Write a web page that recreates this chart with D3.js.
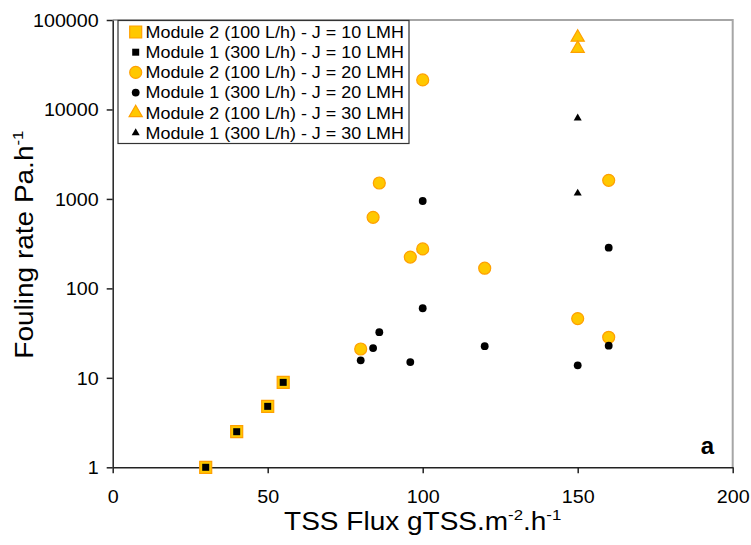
<!DOCTYPE html>
<html>
<head>
<meta charset="utf-8">
<script src="https://cdn.jsdelivr.net/npm/d3@7"></script>
<style>
  html, body { margin: 0; padding: 0; background: #fff; overflow: hidden; }
  svg { display: block; }
  text { font-family: "Liberation Sans", Arial, sans-serif; }
</style>
</head>
<body>
<div id="chart"></div>
<script>
// series, in legend / draw order
const seriesNames = [
  "Module 2 (100 L/h) - J = 10 LMH",
  "Module 1 (300 L/h) - J = 10 LMH",
  "Module 2 (100 L/h) - J = 20 LMH",
  "Module 1 (300 L/h) - J = 20 LMH",
  "Module 2 (100 L/h) - J = 30 LMH",
  "Module 1 (300 L/h) - J = 30 LMH"
];

// TSS flux (x) and fouling rate (y)
const m2j10x = [30, 40, 50, 55];
const m2j10y = [1, 2.5, 4.8, 8.9];
const m1j10x = [30, 40, 50, 55];
const m1j10y = [1, 2.5, 4.8, 8.9];
const m2j20x = [80, 84, 86, 96, 100, 100, 120, 150, 160, 160];
const m2j20y = [21, 623, 1507, 224, 276, 21400, 168, 46, 1615, 28.4];
const m1j20x = [80, 84, 86, 96, 100, 100, 120, 150, 160, 160];
const m1j20y = [15.7, 21.5, 32.4, 15, 948, 60, 22.6, 13.8, 285, 22.9];
const m2j30x = [150, 150];
const m2j30y = [64000, 48000];
const m1j30x = [150, 150];
const m1j30y = [8000, 1156];

const xTicks = [0, 50, 100, 150, 200];
const yTicks = [1, 10, 100, 1000, 10000, 100000];

const width = 751, height = 545;
const margin = { top: 20, right: 18.3, bottom: 77.7, left: 112.7 };
const innerWidth = width - margin.left - margin.right;
const innerHeight = height - margin.top - margin.bottom;

// the original text is a little wider than plain Arial
const sx = 1.12;

const orangeFill = "#FFC800", orangeStroke = "#FFA000";

// symbol style per series
const styles = [
  { type: d3.symbolSquare, size: 144, fill: orangeFill, stroke: orangeStroke },
  { type: d3.symbolSquare, size: 49, fill: "#000", stroke: "none" },
  { type: d3.symbolCircle, size: 113, fill: orangeFill, stroke: orangeStroke },
  { type: d3.symbolCircle, size: 48, fill: "#000", stroke: "none" },
  { type: d3.symbolTriangle, size: 75, fill: orangeFill, stroke: orangeStroke },
  { type: d3.symbolTriangle, size: 28, fill: "#000", stroke: "none" }
];

const seriesX = [m2j10x, m1j10x, m2j20x, m1j20x, m2j30x, m1j30x];
const seriesY = [m2j10y, m1j10y, m2j20y, m1j20y, m2j30y, m1j30y];
const series = seriesNames.map((name, i) => ({
  name,
  style: styles[i],
  points: seriesX[i].map((x, j) => ({ x, y: seriesY[i][j] }))
}));

const svg = d3.select("#chart").append("svg")
  .attr("width", width)
  .attr("height", height);

const x = d3.scaleLinear().domain([0, 200]).range([0, innerWidth]);
const y = d3.scaleLog().domain([1, 100000]).range([innerHeight, 0]);

const mg = svg.append("g")
  .attr("transform", `translate(${margin.left},${margin.top})`);

// gray top/right border of the plot area
mg.append("path")
  .attr("d", `M0,0H${innerWidth}V${innerHeight}`)
  .attr("fill", "none")
  .attr("stroke", "#a6a6a6")
  .attr("stroke-width", 2);

// x axis
const xAxis = mg.append("g")
  .attr("transform", `translate(0,${innerHeight})`)
  .call(d3.axisBottom(x).tickValues(xTicks).tickSize(6).tickSizeOuter(0).tickPadding(17));
// y axis
const yAxis = mg.append("g")
  .call(d3.axisLeft(y).tickValues(yTicks).tickFormat(d3.format("d")).tickSize(6).tickSizeOuter(0).tickPadding(7));

[xAxis, yAxis].forEach(a => {
  a.select(".domain").attr("stroke", "#222").attr("stroke-width", 1.5);
  a.selectAll(".tick line").attr("stroke", "#222").attr("stroke-width", 1.5);
  a.selectAll(".tick text")
    .attr("fill", "#000")
    .attr("transform", `scale(${sx},1)`)
    .style("font-family", "'Liberation Sans', Arial, sans-serif")
    .style("font-size", "17.6px");
});
yAxis.selectAll(".tick text").attr("x", -14 / sx).attr("dy", "0.36em");

// points
const symbol = d3.symbol();
series.forEach(s => {
  mg.append("g").selectAll("path")
    .data(s.points)
    .join("path")
    .attr("transform", d => `translate(${x(d.x)},${y(d.y)})`)
    .attr("d", symbol.type(s.style.type).size(s.style.size)())
    .attr("fill", s.style.fill)
    .attr("stroke", s.style.stroke)
    .attr("stroke-width", 1.2);
});

// legend
const legend = svg.append("g").attr("transform", "translate(118,20.5)");
legend.append("rect")
  .attr("width", 291)
  .attr("height", 123)
  .attr("fill", "#fff")
  .attr("stroke", "#333")
  .attr("stroke-width", 1.2);
const rows = legend.selectAll("g.row")
  .data(series)
  .join("g")
  .attr("class", "row")
  .attr("transform", (d, i) => `translate(0,${11.5 + i * 20.2})`);
rows.append("path")
  .attr("transform", "translate(17.7,0)")
  .attr("d", d => d3.symbol().type(d.style.type).size(d.style.size)())
  .attr("fill", d => d.style.fill)
  .attr("stroke", d => d.style.stroke)
  .attr("stroke-width", 1.2);
rows.append("text")
  .attr("transform", "translate(27.5,0) scale(1.1,1)")
  .attr("dy", "0.36em")
  .style("font-size", "16.3px")
  .text(d => d.name);

// axis titles
svg.append("g")
  .attr("transform", `translate(${margin.left + innerWidth / 2},530)`)
  .append("text")
  .attr("transform", `scale(${sx},1)`)
  .attr("text-anchor", "middle")
  .style("font-size", "25px")
  .call(t => {
    t.append("tspan").text("TSS Flux gTSS.m");
    t.append("tspan").attr("dy", -10).style("font-size", "15px").text("-2");
    t.append("tspan").attr("dy", 10).text(".h");
    t.append("tspan").attr("dy", -10).style("font-size", "15px").text("-1");
  });

svg.append("g")
  .attr("transform", `translate(33,${margin.top + innerHeight / 2 + 1}) rotate(-90)`)
  .append("text")
  .attr("transform", `scale(${sx},1)`)
  .attr("text-anchor", "middle")
  .style("font-size", "25px")
  .call(t => {
    t.append("tspan").text("Fouling rate Pa.h");
    t.append("tspan").attr("dy", -10).style("font-size", "15px").text("-1");
  });

// panel label
svg.append("text")
  .attr("x", 714)
  .attr("y", 453.5)
  .attr("text-anchor", "end")
  .style("font-size", "24px")
  .style("font-weight", "bold")
  .text("a");
</script>
</body>
</html>
